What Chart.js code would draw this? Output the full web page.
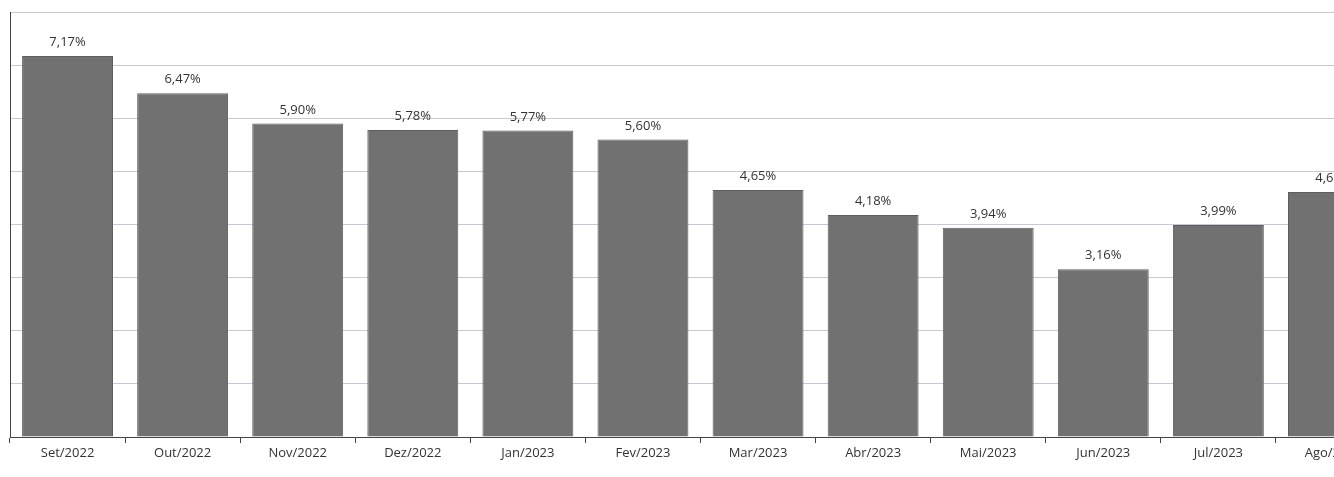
<!DOCTYPE html>
<html>
<head>
<meta charset="utf-8">
<script src="https://cdn.jsdelivr.net/npm/chart.js@4.4.0/dist/chart.umd.min.js"></script>
<style>
	html, body { margin: 0; padding: 0; background: #fff; overflow: hidden; }
	#wrap { width: 1396px; height: 477px; }
</style>
</head>
<body>
<div id="wrap"><canvas id="chart" width="1396" height="477"></canvas></div>
<script>
const months = ['Set/2022', 'Out/2022', 'Nov/2022', 'Dez/2022', 'Jan/2023', 'Fev/2023',
	'Mar/2023', 'Abr/2023', 'Mai/2023', 'Jun/2023', 'Jul/2023', 'Ago/2023'];
const rates = [7.17, 6.47, 5.90, 5.78, 5.77, 5.60, 4.65, 4.18, 3.94, 3.16, 3.99, 4.61];
const yTicks = [0, 1, 2, 3, 4, 5, 6, 7, 8];

const fmt = v => v.toFixed(2).replace('.', ',') + '%';

// Value labels above each bar
const barLabels = {
	id: 'barLabels',
	afterDatasetsDraw(chart) {
		const ctx = chart.ctx;
		const meta = chart.getDatasetMeta(0);
		ctx.save();
		ctx.font = '13px "Open Sans", "DejaVu Sans", sans-serif';
		ctx.fillStyle = '#333';
		ctx.textAlign = 'center';
		ctx.textBaseline = 'bottom';
		meta.data.forEach((bar, i) => {
			ctx.fillText(fmt(rates[i]), bar.x, bar.y - 7);
		});
		ctx.restore();
	}
};

new Chart(document.getElementById('chart'), {
	type: 'bar',
	data: {
		labels: months,
		datasets: [{
			data: rates,
			backgroundColor: '#717171',
			borderColor: '#5e5e5e',
			borderWidth: 1,
			categoryPercentage: 1,
			barPercentage: 0.79
		}]
	},
	options: {
		responsive: false,
		animation: false,
		layout: { padding: { top: 12, right: 5, left: 0, bottom: 0 } },
		plugins: {
			legend: { display: false },
			tooltip: { enabled: false }
		},
		scales: {
			x: {
				afterFit: scale => { scale.height = 40; },
				grid: {
					display: true,
					drawOnChartArea: false,
					tickLength: 6,
					color: '#444'
				},
				border: { color: '#444', width: 1 },
				ticks: {
					color: '#333',
					padding: 2,
					maxRotation: 0,
					autoSkip: false,
					font: { size: 13, family: '"Open Sans", "DejaVu Sans", sans-serif' }
				}
			},
			y: {
				min: 0,
				max: 8,
				afterBuildTicks: scale => { scale.ticks = yTicks.map(v => ({ value: v })); },
				afterFit: scale => { scale.width = 10; },
				grid: { color: '#c9c9d6', lineWidth: 1, drawTicks: false },
				border: { color: '#444', width: 1 },
				ticks: { display: false }
			}
		}
	},
	plugins: [barLabels]
});
</script>
</body>
</html>
